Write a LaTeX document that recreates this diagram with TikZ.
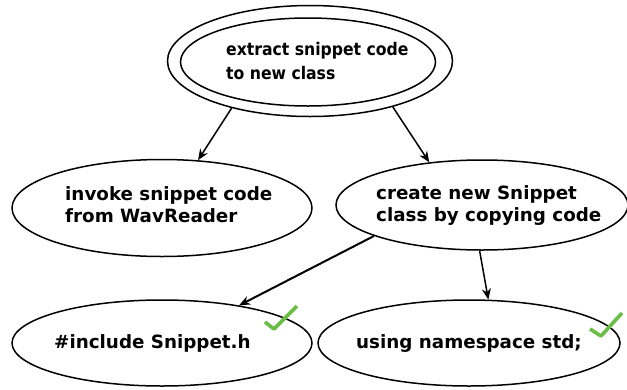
\documentclass[tikz,border=0pt]{standalone}
\usepackage{fontspec}
\setmainfont{DejaVu Sans}
\newfontfamily\condfont{DejaVu Sans Condensed}
\usetikzlibrary{shapes.geometric,arrows.meta}
\definecolor{checkgreen}{RGB}{106,190,69}
\tikzset{
  oval/.style={draw, ellipse, line width=1.5pt, inner sep=0pt},
  lbl/.style={anchor=base west, inner sep=0pt, font=\bfseries},
  conn/.style={line width=1.5pt, -{Stealth[length=11pt,width=9pt]}},
  checkmk/.style={draw=checkgreen, line width=3.6pt, line join=round}
}
\newcommand{\midfont}{\fontsize{18.3}{22}\selectfont}
\newcommand{\topfont}{\condfont\fontsize{17.4}{24}\selectfont}
\begin{document}
\begin{tikzpicture}[x=1pt,y=-1pt]
\useasboundingbox (0,0) rectangle (627,389);
% ellipses
\node[oval, minimum width=285pt, minimum height=111pt] (top) at (310,61) {};
\node[oval, minimum width=255pt, minimum height=88pt] (topin) at (308,62) {};
\node[oval, minimum width=300pt, minimum height=97pt] (invoke) at (162,208) {};
\node[oval, minimum width=292pt, minimum height=90pt] (create) at (482,205) {};
\node[oval, minimum width=300pt, minimum height=86pt] (incl) at (162,343) {};
\node[oval, minimum width=302pt, minimum height=86pt] (using) at (469,343) {};
% labels
\node[lbl] (ttop) at (226,55) {\topfont\bfseries\begin{tabular}[t]{@{}l@{}}extract snippet code\\to new class\end{tabular}};
\node[lbl] (tinvoke) at (65,200) {\midfont\bfseries\begin{tabular}[t]{@{}l@{}}invoke snippet code\\from WavReader\end{tabular}};
\node[lbl] (tcreate) at (376,199) {\midfont\bfseries\begin{tabular}[t]{@{}l@{}}create new Snippet\\class by copying code\end{tabular}};
\node[lbl] (tincl) at (54,348) {\midfont\bfseries \#include Snippet.h};
\node[lbl] (tusing) at (356,348) {\midfont\bfseries using namespace std;};
% connectors
\draw[conn] (top.211.4) -- (invoke.53.9);
\draw[conn] (top.331.8) -- (create.141.7);
\draw[conn, line width=2pt] (create.196.8) -- (incl.26);
\draw[conn] (create.267.5) -- (using.66.2);
% check marks
\draw[checkmk] (265,322) -- (274,329) -- (297,306);
\draw[checkmk] (590,329) -- (601,336) -- (622,313);
\end{tikzpicture}
\end{document}
